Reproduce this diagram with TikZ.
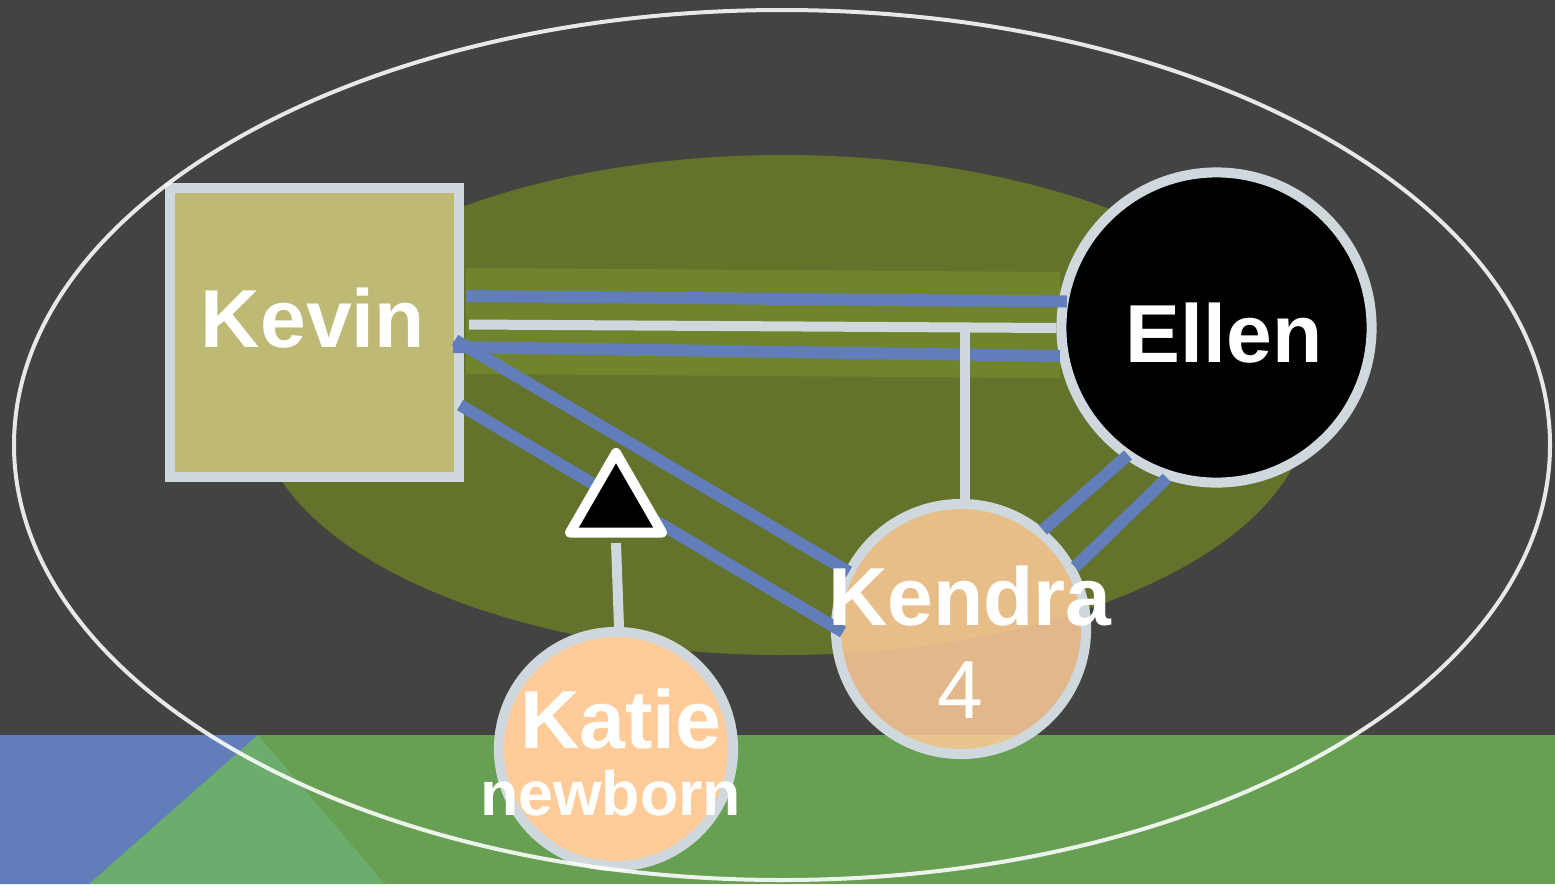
\documentclass[tikz,border=0pt]{standalone}
\usepackage{fontspec}
\setmainfont{Liberation Sans}
\usepackage{tikz}
\usetikzlibrary{positioning, calc, shapes.geometric}
\definecolor{bgdark}{RGB}{67,67,65}
\definecolor{famgreen}{RGB}{99,115,43}
\definecolor{bandgreen}{RGB}{112,132,44}
\definecolor{lawn}{RGB}{103,160,83}
\definecolor{lawnlight}{RGB}{108,172,108}
\definecolor{linkblue}{RGB}{97,126,187}
\definecolor{rimgrey}{RGB}{207,216,220}
\definecolor{khaki}{RGB}{190,186,118}
\definecolor{peach}{RGB}{255,204,153}
\tikzset{
  person/.style={
	draw=rimgrey, line width=0.1cm, % grey rim of every person
	inner sep=0pt,
  },
  male/.style={person, rectangle, fill=khaki, minimum size=2.89cm},
  female/.style={person, circle},
  bluelink/.style={draw=linkblue, line width=0.12cm}, % blue relation lines
  greylink/.style={draw=rimgrey, line width=0.1cm}, % family lines
  nametext/.style={text=white, font=\bfseries\fontsize{23.4}{26}\selectfont, anchor=base, inner sep=0pt},
}

\begin{document}
\begin{tikzpicture}[x=0.01cm, y=-0.01cm]
		\useasboundingbox (0,0) rectangle (1555,884);
		\fill[bgdark] (0,0) rectangle (1555,884);

		% Fondo
		\fill[lawn] (0,735) rectangle (1555,884);
		\fill[linkblue] (0,735) -- (258,735) -- (89,884) -- (0,884) -- cycle;
		\fill[lawnlight] (258,735) -- (385,884) -- (89,884) -- cycle;
		\fill[famgreen] (783,405) ellipse [x radius=526, y radius=250];
		\fill[bandgreen] (466,268) -- (1060,272) -- (1060,378) -- (466,374) -- cycle;

		% Personas
		\node[male] (kevin) at (314.5,332.5) {};
		\node[female, fill=black, minimum size=3.10cm] (ellen) at (1216.5,327.5) {};
		\node[female, fill=peach, fill opacity=0.85, minimum size=2.50cm] (kendra) at (961,629) {};
		\node[female, fill=peach, minimum size=2.34cm] (katie) at (616,749) {};

		% Lineas azules
		\draw[bluelink] ($(kevin.east)+(2,-36.5)$) -- ($(ellen.west)+(10.5,-26)$);
		\draw[bluelink] ($(kevin.east)+(-11,14.5)$) -- ($(ellen.west)+(3.5,28.5)$);
		\draw[bluelink] ($(kevin.east)+(-9,7.5)$) -- ($(kendra)+(-112,-57)$);
		\draw[bluelink] ($(kevin.east)+(-4,72.5)$) -- ($(kendra)+(-118,3)$);
		\draw[bluelink] ($(kendra)+(82,-99)$) -- ($(ellen)+(-88.5,127.5)$);
		\draw[bluelink] ($(kendra)+(114,-62)$) -- ($(ellen)+(-49.5,150.5)$);

		% Lineas grises
		\draw[greylink] ($(kevin.east)+(5,-8)$) -- ($(ellen.west)+(0,0.5)$);
		\coordinate (union) at (965,328);
		\draw[greylink] (union) -- (union |- kendra.north);

		\node[regular polygon, regular polygon sides=3, draw=white, fill=black, line width=0.1cm,
			line join=round, inner sep=0pt, minimum size=1.06cm] (birth) at (616,506) {};
		\draw[greylink] ($(birth.south)+(0,5.5)$) -- ($(katie.north)+(3,0)$);

		\draw[white, draw opacity=0.88, line width=0.04cm] (782,445) ellipse [x radius=768, y radius=435];

		% Nombres
		\node[nametext] (kevinname) at (313,347) {Kevin};
		\node[nametext] (ellenname) at (1224,362) {Ellen};
		\node[nametext] (kendraname) at (970,625) {Kendra};
		\node[nametext, font=\fontsize{23.4}{26}\selectfont] (kendraage) at (960,718) {4};
		\node[nametext] (katiename) at (621,748) {Katie};
		\node[nametext, font=\bfseries\fontsize{17.8}{20}\selectfont] (katieage) at (610.5,815) {newborn};
\end{tikzpicture}
\end{document}
